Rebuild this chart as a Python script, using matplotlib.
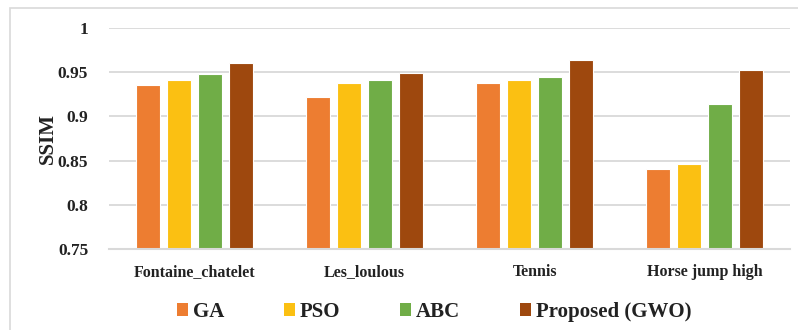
import numpy as np
import matplotlib
matplotlib.use("Agg")
import matplotlib.pyplot as plt
from matplotlib.patches import Rectangle, Patch

# SSIM per test sequence and optimiser
sequences = ["Fontaine_chatelet", "Les_loulous", "Tennis", "Horse jump high"]
methods = ["GA", "PSO", "ABC", "Proposed (GWO)"]
ga = [0.935, 0.922, 0.938, 0.841]
pso = [0.941, 0.938, 0.941, 0.846]
abc = [0.948, 0.941, 0.945, 0.914]
gwo = [0.960, 0.949, 0.964, 0.952]
y_ticks = [0.75, 0.8, 0.85, 0.9, 0.95, 1.0]
y_tick_labels = ["0.75", "0.8", "0.85", "0.9", "0.95", "1"]

colors = ["#ED7D31", "#FBC012", "#70AD47", "#9E480E"]
text_color = "#222222"
grid_color = "#D9D9D9"

plt.rcParams["font.family"] = ["Liberation Serif", "DejaVu Serif"]
plt.rcParams["font.weight"] = "bold"

fig = plt.figure(figsize=(7.98, 3.30), dpi=100)
ax = fig.add_axes([0.1366, 0.2455, 0.8534, 0.6697])

# light frame around the whole chart area
fig.patches.append(Rectangle((10 / 798, -0.1), 1.2, 1.1 - 8 / 330,
                             transform=fig.transFigure, fill=False,
                             edgecolor="#D9D9D9", linewidth=1.2))

x = np.arange(len(sequences))
slot = 0.182
bar_w = 0.141
series = [ga, pso, abc, gwo]
for i, (vals, col) in enumerate(zip(series, colors)):
    offset = (i - 1.5) * slot
    ax.bar(x + offset, np.array(vals) - 0.75, bar_w, bottom=0.75, color=col,
           edgecolor="white", linewidth=0.8, zorder=3)

ax.set_xlim(-0.5, len(sequences) - 0.5)
ax.set_ylim(0.75, 1.0)
ax.set_yticks(y_ticks)
ax.set_yticklabels(y_tick_labels, fontsize=12.5, fontweight="bold", color=text_color)
ax.set_xticks(x)
ax.set_xticklabels(sequences, fontsize=11.5, fontweight="bold", color=text_color)
ax.tick_params(axis="both", length=0)
ax.tick_params(axis="y", pad=15)
ax.tick_params(axis="x", pad=11)

ax.grid(axis="y", color=grid_color, linewidth=1.3, zorder=0)
ax.set_axisbelow(True)
for side in ["top", "right", "left"]:
    ax.spines[side].set_visible(False)
ax.spines["bottom"].set_color(grid_color)
ax.spines["bottom"].set_linewidth(1.5)
ax.spines["bottom"].set_zorder(4)

ax.set_ylabel("SSIM", fontsize=15, fontweight="bold", color=text_color)
ax.yaxis.set_label_coords(-(109 - 58) / 681, 0.5)

handles = [Patch(facecolor=c, edgecolor="none") for c in colors]
fig.legend(handles, methods, loc="center", bbox_to_anchor=(0.544, 1 - 312 / 330),
           ncol=4, frameon=False, handlelength=0.53, handleheight=0.53,
           handletextpad=0.25, columnspacing=2.85,
           prop={"family": "Liberation Serif", "weight": "bold", "size": 15},
           labelcolor=text_color)

fig.savefig("out.png", dpi=100)
